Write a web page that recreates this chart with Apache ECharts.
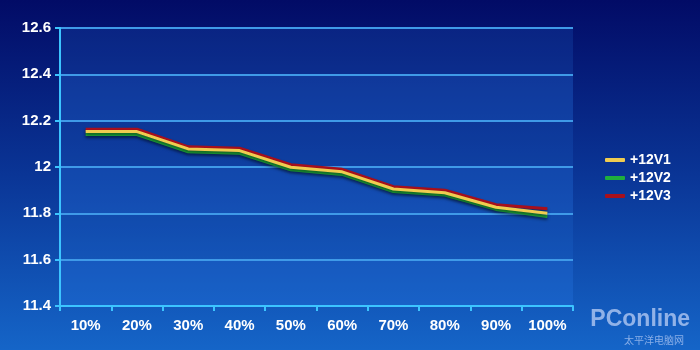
<!DOCTYPE html>
<html>
<head>
<meta charset="utf-8">
<script src="https://cdn.jsdelivr.net/npm/echarts@6/dist/echarts.min.js"></script>
<style>
html,body{margin:0;padding:0;background:#0a2a90;}
#c{width:700px;height:350px;}
</style>
</head>
<body>
<div id="c"></div>
<script>
var categories = ['10%','20%','30%','40%','50%','60%','70%','80%','90%','100%'];
var v1 = [12.153, 12.153, 12.078, 12.071, 11.999, 11.979, 11.905, 11.889, 11.826, 11.800];
var v2 = [12.140, 12.140, 12.066, 12.059, 11.988, 11.968, 11.894, 11.879, 11.817, 11.786];
var v3 = [12.163, 12.163, 12.087, 12.081, 12.010, 11.990, 11.915, 11.900, 11.837, 11.820];
var seriesNames = ['+12V1','+12V2','+12V3'];
var seriesColors = ['#f0cc50','#1fae3c','#a8101c'];

var chart = echarts.init(document.getElementById('c'));
var font = 'Liberation Sans, Arial, sans-serif';
function mk(name, data, color, z){
  return {
    name: name, type: 'line', data: data, symbol: 'none', z: z,
    lineStyle: {color: color, width: 3, shadowColor: 'rgba(0,0,0,0.5)', shadowBlur: 3, shadowOffsetY: 2},
    itemStyle: {color: color}
  };
}
chart.setOption({
  animation: false,
  backgroundColor: {
    type: 'linear', x: 0, y: 0, x2: 0, y2: 1,
    colorStops: [{offset: 0, color: '#020b66'}, {offset: 0.5, color: '#0a3596'}, {offset: 1, color: '#1565c8'}]
  },
  grid: {left: 60, right: 127, top: 28, bottom: 44, containLabel: false},
  legend: {
    orient: 'vertical', left: 600, top: 148,
    icon: 'roundRect',
    itemWidth: 20, itemHeight: 4, itemGap: 4,
    data: seriesNames,
    textStyle: {color: '#ffffff', fontWeight: 'bold', fontSize: 14, fontFamily: font}
  },
  xAxis: {
    type: 'category', data: categories, boundaryGap: true,
    axisLine: {lineStyle: {color: '#3cc4ff', width: 2}},
    axisTick: {show: true, length: 5, lineStyle: {color: '#3cc4ff', width: 2}},
    axisLabel: {color: '#ffffff', fontWeight: 'bold', fontSize: 15, fontFamily: font, margin: 12},
    splitLine: {show: false}
  },
  yAxis: {
    type: 'value', min: 11.4, max: 12.6, interval: 0.2,
    axisLine: {show: true, lineStyle: {color: '#3cc4ff', width: 2}},
    axisTick: {show: true, length: 5, lineStyle: {color: '#3cc4ff', width: 2}},
    axisLabel: {color: '#ffffff', fontWeight: 'bold', fontSize: 15, fontFamily: font, margin: 9,
      formatter: function(v){ return String(+v.toFixed(1)); }},
    splitLine: {show: true, lineStyle: {color: '#3f9ae8', width: 2}},
    splitArea: {show: true, areaStyle: {color: ['rgba(40,120,230,0.30)', 'rgba(40,120,230,0.18)']}}
  },
  graphic: [
    {type: 'text', right: 10, bottom: 19, z: 100,
      style: {text: 'PConline', fill: 'rgba(200,215,250,0.7)', font: 'bold 23px ' + font}},
    {type: 'text', right: 16, bottom: 5, z: 100,
      style: {text: '太平洋电脑网', fill: 'rgba(200,215,250,0.65)', font: '10px Noto Sans CJK SC', letterSpacing: 6}}
  ],
  series: [
    mk(seriesNames[0], v1, seriesColors[0], 3),
    mk(seriesNames[1], v2, seriesColors[1], 2),
    mk(seriesNames[2], v3, seriesColors[2], 1)
  ]
});
</script>
</body>
</html>
